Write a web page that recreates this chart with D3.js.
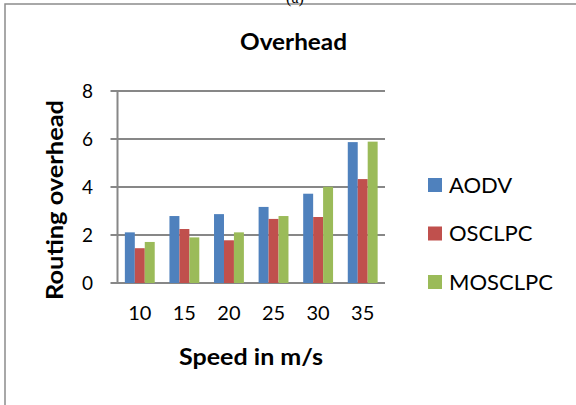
<!DOCTYPE html>
<html>
<head>
<meta charset="utf-8">
<script src="https://cdn.jsdelivr.net/npm/d3@7/dist/d3.min.js"></script>
<style>
  html, body { margin: 0; padding: 0; background: #fff; }
  svg { display: block; }
  text { font-family: Lato, "Open Sans", sans-serif; fill: #000; }
</style>
</head>
<body>
<svg id="chart" width="576" height="405"></svg>
<script>
// Routing overhead per mobility speed
const speeds = ["10", "15", "20", "25", "30", "35"];
const seriesNames = ["AODV", "OSCLPC", "MOSCLPC"];
const aodv    = [2.11, 2.79, 2.87, 3.17, 3.72, 5.87];
const osclpc  = [1.45, 2.25, 1.78, 2.67, 2.75, 4.33];
const mosclpc = [1.71, 1.90, 2.11, 2.79, 4.01, 5.89];
const yTicks  = [0, 2, 4, 6, 8];
const colors  = ["#4F81BD", "#C0504D", "#9BBB59"];

const seriesValues = [aodv, osclpc, mosclpc];
const rows = speeds.map((s, i) => ({
  speed: s,
  values: seriesNames.map((n, k) => ({ name: n, value: seriesValues[k][i], k }))
}));

const svg = d3.select("#chart");

// chart frame
svg.append("rect")
  .attr("x", 5).attr("y", 4)
  .attr("width", 600).attr("height", 420)
  .attr("fill", "none").attr("stroke", "#8c8c8c").attr("stroke-width", 1.5);

// figure caption
svg.append("text")
  .attr("x", 295).attr("y", 3)
  .attr("text-anchor", "middle")
  .style("font-family", "'Liberation Serif', serif")
  .style("font-size", "16px")
  .text("(a)");

const plot = { left: 117.5, right: 385, top: 91, bottom: 283 };

const x = d3.scaleBand()
  .domain(speeds)
  .range([plot.left, plot.right])
  .paddingInner(0.33)
  .paddingOuter(0.165);

const xs = d3.scaleBand()
  .domain(seriesNames)
  .range([0, x.bandwidth()]);

const y = d3.scaleLinear()
  .domain([0, 8])
  .range([plot.bottom, plot.top]);

// horizontal gridlines with outside tick marks
svg.append("g")
  .selectAll("line")
  .data(yTicks)
  .join("line")
  .attr("x1", plot.left - 7).attr("x2", plot.right)
  .attr("y1", d => y(d)).attr("y2", d => y(d))
  .attr("stroke", "#878787").attr("stroke-width", 2);

// vertical axis line
svg.append("line")
  .attr("x1", plot.left).attr("x2", plot.left)
  .attr("y1", plot.top).attr("y2", plot.bottom)
  .attr("stroke", "#878787").attr("stroke-width", 2);

// bars
svg.append("g")
  .selectAll("g")
  .data(rows)
  .join("g")
  .attr("transform", d => `translate(${x(d.speed)},0)`)
  .selectAll("rect")
  .data(d => d.values)
  .join("rect")
  .attr("x", d => xs(d.name))
  .attr("width", xs.bandwidth())
  .attr("y", d => y(d.value))
  .attr("height", d => y(0) - y(d.value))
  .attr("fill", d => colors[d.k]);

// y tick labels
svg.append("g")
  .selectAll("text")
  .data(yTicks)
  .join("text")
  .attr("x", 93)
  .attr("y", d => y(d))
  .attr("dy", "0.36em")
  .attr("text-anchor", "end")
  .style("font-size", "19px")
  .text(d => d);

// x tick labels
svg.append("g")
  .selectAll("text")
  .data(speeds)
  .join("text")
  .attr("x", d => x(d) + x.bandwidth() / 2)
  .attr("y", 320)
  .attr("text-anchor", "middle")
  .style("font-size", "20px")
  .text(d => d);

// title
svg.append("text")
  .attr("x", 293.5).attr("y", 50)
  .attr("text-anchor", "middle")
  .attr("textLength", 107).attr("lengthAdjust", "spacingAndGlyphs")
  .style("font-size", "22px").style("font-weight", "bold")
  .text("Overhead");

// axis titles
svg.append("text")
  .attr("x", 251).attr("y", 365)
  .attr("text-anchor", "middle")
  .attr("textLength", 144).attr("lengthAdjust", "spacingAndGlyphs")
  .style("font-size", "22px").style("font-weight", "bold")
  .text("Speed in m/s");

svg.append("text")
  .attr("transform", "translate(63,200) rotate(-90)")
  .attr("text-anchor", "middle")
  .attr("textLength", 200).attr("lengthAdjust", "spacingAndGlyphs")
  .style("font-size", "22px").style("font-weight", "bold")
  .text("Routing overhead");

// legend
const legend = svg.append("g")
  .selectAll("g")
  .data(seriesNames)
  .join("g")
  .attr("transform", (d, i) => `translate(428,${185 + i * 48.5})`);

legend.append("rect")
  .attr("x", 0).attr("y", -7)
  .attr("width", 14).attr("height", 14)
  .attr("fill", (d, i) => colors[i]);

legend.append("text")
  .attr("x", 21).attr("y", 0)
  .attr("dy", "0.36em")
  .style("font-size", "22px")
  .text(d => d);
</script>
</body>
</html>
